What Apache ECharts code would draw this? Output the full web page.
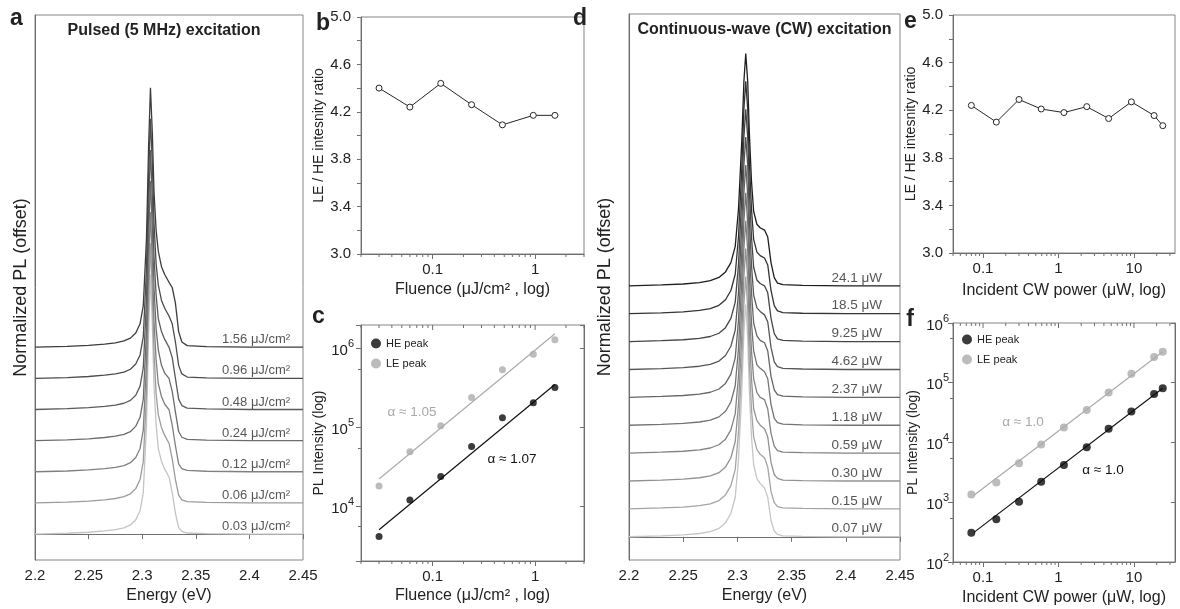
<!DOCTYPE html>
<html><head><meta charset="utf-8">
<script src="https://cdn.jsdelivr.net/npm/echarts@6/dist/echarts.min.js"></script>
<style>html,body{margin:0;padding:0;background:#fff}#chart{width:1180px;height:609px}</style>
</head><body><div id="chart"></div>
<script>
// ---------- DATA ----------
const energy = [2.200, 2.230, 2.250, 2.265, 2.275, 2.283, 2.289, 2.294, 2.298, 2.301, 2.304, 2.306, 2.3077,
                2.3095, 2.311, 2.313, 2.315, 2.318, 2.321, 2.325, 2.328, 2.331, 2.334, 2.337, 2.342, 2.360, 2.400, 2.450];
const energyTicks = [2.2, 2.25, 2.3, 2.35, 2.4, 2.45];

// panel a: pulsed excitation (bottom -> top)
const pulsedLabels = ['0.03 μJ/cm²', '0.06 μJ/cm²', '0.12 μJ/cm²', '0.24 μJ/cm²', '0.48 μJ/cm²', '0.96 μJ/cm²', '1.56 μJ/cm²'];
const pulsedOffset = [0, 0.12, 0.24, 0.36, 0.48, 0.60, 0.72];
const pulsedRise = [0, 0.003, 0.007, 0.012, 0.017, 0.024, 0.035, 0.055, 0.09, 0.16, 0.42, 0.78, 1.0];
const pulsedFall = [
  [0.80, 0.57, 0.42, 0.33, 0.28, 0.25, 0.22, 0.16, 0.08, 0.025, 0.010, 0.004, 0.002, 0, 0],
  [0.80, 0.58, 0.42, 0.34, 0.29, 0.26, 0.23, 0.17, 0.09, 0.030, 0.012, 0.005, 0.002, 0, 0],
  [0.80, 0.58, 0.43, 0.34, 0.29, 0.26, 0.24, 0.18, 0.10, 0.030, 0.012, 0.005, 0.002, 0, 0],
  [0.81, 0.59, 0.43, 0.35, 0.29, 0.26, 0.24, 0.19, 0.11, 0.035, 0.013, 0.005, 0.002, 0, 0],
  [0.81, 0.59, 0.44, 0.35, 0.30, 0.27, 0.24, 0.20, 0.12, 0.040, 0.015, 0.005, 0.002, 0, 0],
  [0.82, 0.60, 0.44, 0.36, 0.30, 0.27, 0.24, 0.21, 0.14, 0.050, 0.017, 0.005, 0.002, 0, 0],
  [0.82, 0.60, 0.45, 0.37, 0.31, 0.28, 0.25, 0.23, 0.17, 0.060, 0.020, 0.006, 0.002, 0, 0]
];
const pulsedColors = ['#c4c4c4', '#9c9c9c', '#808080', '#6c6c6c', '#5a5a5a', '#4c4c4c', '#3c3c3c'];

// panel d: CW excitation (bottom -> top)
const cwLabels = ['0.07 μW', '0.15 μW', '0.30 μW', '0.59 μW', '1.18 μW', '2.37 μW', '4.62 μW', '9.25 μW', '18.5 μW', '24.1 μW'];
const cwOffset = [0, 0.12, 0.24, 0.36, 0.48, 0.60, 0.72, 0.84, 0.96, 1.08];
const cwRise = [0, 0.004, 0.008, 0.014, 0.022, 0.036, 0.06, 0.10, 0.17, 0.33, 0.62, 0.88, 1.0];
const cwFall = [
  [0.86, 0.63, 0.43, 0.31, 0.25, 0.23, 0.21, 0.17, 0.07, 0.025, 0.010, 0.004, 0.002, 0, 0],
  [0.86, 0.63, 0.43, 0.31, 0.255, 0.235, 0.22, 0.18, 0.075, 0.027, 0.010, 0.004, 0.002, 0, 0],
  [0.87, 0.64, 0.44, 0.31, 0.26, 0.24, 0.225, 0.19, 0.08, 0.028, 0.011, 0.004, 0.002, 0, 0],
  [0.87, 0.64, 0.44, 0.32, 0.26, 0.24, 0.23, 0.19, 0.085, 0.030, 0.011, 0.004, 0.002, 0, 0],
  [0.87, 0.65, 0.44, 0.32, 0.26, 0.245, 0.23, 0.20, 0.09, 0.030, 0.011, 0.005, 0.002, 0, 0],
  [0.87, 0.65, 0.45, 0.32, 0.265, 0.245, 0.235, 0.20, 0.09, 0.032, 0.012, 0.005, 0.002, 0, 0],
  [0.88, 0.65, 0.45, 0.32, 0.265, 0.25, 0.235, 0.205, 0.095, 0.033, 0.012, 0.005, 0.002, 0, 0],
  [0.88, 0.66, 0.45, 0.32, 0.265, 0.25, 0.24, 0.21, 0.10, 0.034, 0.012, 0.005, 0.002, 0, 0],
  [0.88, 0.66, 0.45, 0.32, 0.265, 0.25, 0.24, 0.21, 0.10, 0.035, 0.012, 0.005, 0.002, 0, 0],
  [0.88, 0.66, 0.45, 0.32, 0.265, 0.25, 0.24, 0.21, 0.10, 0.035, 0.012, 0.005, 0.002, 0, 0]
];
const cwColors = ['#c6c6c6', '#a4a4a4', '#929292', '#828282', '#737373', '#666666', '#575757', '#454545', '#333333', '#1e1e1e'];

// panel b / c: fluence series
const fluence = [0.03, 0.06, 0.12, 0.24, 0.48, 0.96, 1.56];
const pulsedRatio = [4.40, 4.24, 4.44, 4.26, 4.09, 4.17, 4.17];
const pulsedHE = [4.1e3, 1.19e4, 2.37e4, 5.7e4, 1.32e5, 2.05e5, 3.2e5];
const pulsedLE = [1.8e4, 4.9e4, 1.05e5, 2.4e5, 5.4e5, 8.5e5, 1.3e6];
const pulsedFitX = [0.03, 1.56];
const pulsedFitHE = [5.0e3, 3.5e5];
const pulsedFitLE = [2.2e4, 1.55e6];

// panel e / f: CW power series
const cwPower = [0.07, 0.15, 0.30, 0.59, 1.18, 2.37, 4.62, 9.25, 18.5, 24.1];
const cwRatio = [4.24, 4.10, 4.29, 4.21, 4.18, 4.23, 4.13, 4.27, 4.155, 4.07];
const cwHE = [310, 520, 1.02e3, 2.2e3, 4.2e3, 8.3e3, 1.7e4, 3.3e4, 6.5e4, 8.1e4];
const cwLE = [1.35e3, 2.15e3, 4.5e3, 9.3e3, 1.78e4, 3.5e4, 6.9e4, 1.41e5, 2.7e5, 3.3e5];
const cwFitX = [0.075, 24.1];
const cwFitHE = [310, 8.1e4];
const cwFitLE = [1.3e3, 3.3e5];

// minor log tick positions
const fluenceMinorTicks = [0.02, 0.03, 0.04, 0.05, 0.06, 0.07, 0.08, 0.09, 0.2, 0.3, 0.4, 0.5, 0.6, 0.7, 0.8, 0.9, 2, 3];
const powerMinorTicks = [0.04, 0.05, 0.06, 0.07, 0.08, 0.09, 0.2, 0.3, 0.4, 0.5, 0.6, 0.7, 0.8, 0.9, 2, 3, 4, 5, 6, 7, 8, 9, 20, 30];
const fluenceMajorTicks = [0.1, 1];
const powerMajorTicks = [0.1, 1, 10];

// ---------- CHART ----------
const FONT = 'Liberation Sans, Arial, sans-serif';
const TXT = '#222';
const AX = '#6e6e6e';
const chart = echarts.init(document.getElementById('chart'), null, {renderer: 'canvas'});

const grids = [
  {left: 35, top: 15, width: 268, height: 547},   // a
  {left: 361, top: 17, width: 223, height: 237},  // b
  {left: 361, top: 325, width: 223, height: 236}, // c
  {left: 629, top: 14, width: 271, height: 546},  // d
  {left: 953, top: 15, width: 222, height: 238},  // e
  {left: 953, top: 323, width: 222, height: 239}  // f
].map(g => Object.assign({show: true, borderColor: '#858585', borderWidth: 1, backgroundColor: 'transparent'}, g));

const axLine = {show: true, lineStyle: {color: AX, width: 1}};
const lbl = (m) => ({color: TXT, fontSize: 15, fontFamily: FONT, margin: m});
const xNameStyle = {color: TXT, fontSize: 16, fontFamily: FONT};
const yNameStyle = {color: TXT, fontSize: 14, fontFamily: FONT};
const logFmt = v => v >= 1 ? String(Math.round(v)) : String(+v.toPrecision(1));
const powFmt = v => '{b|10}{s|' + Math.round(Math.log10(v)) + '}';
const powRich = {b: {fontSize: 15, fontFamily: FONT, color: TXT, lineHeight: 20, verticalAlign: 'bottom'},
                 s: {fontSize: 11, fontFamily: FONT, color: TXT, lineHeight: 11, verticalAlign: 'top'}};

function energyAxis(grid) {
  return {type: 'value', gridIndex: grid, min: 2.2, max: 2.45, interval: 0.05,
    axisLine: axLine, axisTick: {show: true, length: 5, lineStyle: {color: AX}},
    axisLabel: Object.assign(lbl(8), {formatter: v => String(+v.toFixed(2))}),
    splitLine: {show: false}, name: 'Energy (eV)', nameLocation: 'middle', nameGap: 28, nameTextStyle: xNameStyle};
}
function logX(grid, min, max, name, nameGap) {
  return {type: 'log', logBase: 10, gridIndex: grid, min: min, max: max,
    axisLine: axLine, axisTick: {show: true, length: 5, lineStyle: {color: AX}},
    axisLabel: Object.assign(lbl(8), {formatter: logFmt, showMinLabel: false, showMaxLabel: false}),
    splitLine: {show: false}, minorTick: {show: false}, name: name, nameLocation: 'middle', nameGap: nameGap, nameTextStyle: xNameStyle};
}
function ratioY(grid, gap) {
  return {type: 'value', gridIndex: grid, min: 3.0, max: 5.0, interval: 0.4,
    axisLine: axLine, axisTick: {show: true, length: 4, lineStyle: {color: AX}},
    minorTick: {show: true, splitNumber: 2, length: 4, lineStyle: {color: AX}},
    axisLabel: Object.assign(lbl(10), {formatter: v => v.toFixed(1)}),
    splitLine: {show: false}, minorSplitLine: {show: false},
    name: 'LE / HE intesnity ratio', nameLocation: 'middle', nameGap: gap, nameTextStyle: yNameStyle};
}
function logY(grid, min, max, showEdges, margin, gap) {
  return {type: 'log', logBase: 10, gridIndex: grid, min: min, max: max,
    axisLine: axLine, axisTick: {show: true, length: 5, lineStyle: {color: AX}},
    minorTick: {show: true, splitNumber: 2, length: 3, lineStyle: {color: AX}},
    axisLabel: {formatter: powFmt, rich: powRich, margin: margin, showMinLabel: showEdges, showMaxLabel: showEdges},
    splitLine: {show: false}, minorSplitLine: {show: false},
    name: 'PL Intensity (log)', nameLocation: 'middle', nameGap: gap, nameTextStyle: yNameStyle};
}
function rightY(grid, min, max) {
  return {type: 'log', logBase: 10, gridIndex: grid, min: min, max: max, position: 'right',
    axisLine: axLine, axisTick: {show: true, inside: true, length: 4, lineStyle: {color: AX}},
    axisLabel: {show: false}, splitLine: {show: false}};
}
function hiddenY(grid, min, max, name, gap) {
  return {type: 'value', gridIndex: grid, min: min, max: max,
    axisLine: axLine, axisTick: {show: false}, axisLabel: {show: false}, splitLine: {show: false},
    name: name, nameLocation: 'middle', nameGap: gap, nameTextStyle: {color: TXT, fontSize: 18, fontFamily: FONT}};
}

const xAxis = [
  energyAxis(0),
  logX(1, 0.02, 3, 'Fluence (μJ/cm² , log)', 28),
  logX(2, 0.02, 3, 'Fluence (μJ/cm² , log)', 27),
  energyAxis(3),
  logX(4, 0.04, 35, 'Incident CW power (μW, log)', 30),
  logX(5, 0.04, 35, 'Incident CW power (μW, log)', 28)
];
const yAxis = [
  hiddenY(0, -0.1, 2.0, 'Normalized PL (offset)', 5),
  ratioY(1, 35),
  logY(2, 2e3, 2e6, false, 7, 35),
  hiddenY(3, -0.1, 2.25, 'Normalized PL (offset)', 15),
  ratioY(4, 33),
  logY(5, 1e2, 1e6, true, 4, 33),
  rightY(2, 2e3, 2e6),
  rightY(5, 1e2, 1e6)
];

const series = [];
function spectra(grid, rise, fall, offsets, colors) {
  offsets.forEach((o, i) => {
    const vals = rise.concat(fall[i]);
    series.push({type: 'line', xAxisIndex: grid, yAxisIndex: grid, silent: true, showSymbol: false,
      data: energy.map((e, k) => [e, vals[k] + o]),
      lineStyle: {color: colors[i], width: 1.3}, z: 2 + i});
  });
}
spectra(0, pulsedRise, pulsedFall, pulsedOffset, pulsedColors);
spectra(3, cwRise, cwFall, cwOffset, cwColors);

function curveLabels(grid, x, offsets, labels, size) {
  series.push({type: 'scatter', xAxisIndex: grid, yAxisIndex: grid, silent: true, symbolSize: 0,
    data: offsets.map((o, i) => ({value: [x, o], label: {formatter: labels[i]}})),
    label: {show: true, position: 'top', distance: 1, align: 'right', color: '#2a2a2a', fontSize: size, fontFamily: FONT}, z: 30});
}
curveLabels(0, 2.438, pulsedOffset, pulsedLabels, 13);
curveLabels(3, 2.4334, cwOffset, cwLabels, 13.5);

function ratioSeries(grid, xs, ys) {
  series.push({type: 'line', xAxisIndex: grid, yAxisIndex: grid, data: xs.map((x, i) => [x, ys[i]]),
    symbol: 'circle', symbolSize: 6, showSymbol: true, lineStyle: {color: '#262626', width: 1},
    itemStyle: {color: '#fff', borderColor: '#262626', borderWidth: 1}, z: 5});
}
ratioSeries(1, fluence, pulsedRatio);
ratioSeries(4, cwPower, cwRatio);

function powerSeries(grid, yIdx, xs, he, le, fx, fhe, fle, size) {
  series.push({type: 'line', xAxisIndex: grid, yAxisIndex: yIdx, data: fx.map((x, i) => [x, fle[i]]), showSymbol: false,
    lineStyle: {color: '#ababab', width: 1.2}, silent: true, z: 3});
  series.push({type: 'line', xAxisIndex: grid, yAxisIndex: yIdx, data: fx.map((x, i) => [x, fhe[i]]), showSymbol: false,
    lineStyle: {color: '#111', width: 1.2}, silent: true, z: 3});
  series.push({name: 'LE peak', type: 'scatter', xAxisIndex: grid, yAxisIndex: yIdx, symbolSize: size,
    data: xs.map((x, i) => [x, le[i]]), itemStyle: {color: '#ababab'}, z: 4});
  series.push({name: 'HE peak', type: 'scatter', xAxisIndex: grid, yAxisIndex: yIdx, symbolSize: size,
    data: xs.map((x, i) => [x, he[i]]), itemStyle: {color: '#0a0a0a'}, z: 4});
}
powerSeries(2, 2, fluence, pulsedHE, pulsedLE, pulsedFitX, pulsedFitHE, pulsedFitLE, 7);
powerSeries(5, 5, cwPower, cwHE, cwLE, cwFitX, cwFitHE, cwFitLE, 8);

// log minor ticks, drawn through the axis scales
function tickRender(params, api) {
  const p = api.coord([api.value(0), api.value(1)]);
  const len = api.value(2);
  return {type: 'line', silent: true, shape: {x1: p[0], y1: p[1], x2: p[0], y2: p[1] + len},
    style: {stroke: AX, lineWidth: 1}};
}
function tickSeries(grid, yIdx, values, yVal, len) {
  series.push({type: 'custom', xAxisIndex: grid, yAxisIndex: yIdx, silent: true, clip: false,
    renderItem: tickRender, data: values.map(v => [v, yVal, len]), z: 10});
}
tickSeries(1, 1, fluenceMinorTicks, 3.0, 3);
tickSeries(2, 2, fluenceMinorTicks, 2e3, 3);
tickSeries(2, 2, fluenceMinorTicks, 2e6, 3);
tickSeries(2, 2, fluenceMajorTicks, 2e6, 5);
tickSeries(4, 4, powerMinorTicks, 3.0, 3);
tickSeries(5, 5, powerMinorTicks, 1e2, 3);
tickSeries(5, 5, powerMinorTicks, 1e6, 3);
tickSeries(5, 5, powerMajorTicks, 1e6, 5);

function txt(x, y, text, size, weight, color, align) {
  return {type: 'text', x: x, y: y, silent: true,
    style: {text: text, fill: color || TXT, font: (weight || 'normal') + ' ' + size + 'px ' + FONT,
      textAlign: align || 'center', textVerticalAlign: 'middle'}};
}
const graphic = [
  txt(16.5, 19, 'a', 23, 'bold'),
  txt(323, 24, 'b', 23, 'bold'),
  txt(318.5, 317, 'c', 23, 'bold'),
  txt(580, 19, 'd', 23, 'bold'),
  txt(910.5, 22, 'e', 23, 'bold'),
  txt(910, 320, 'f', 23, 'bold'),
  txt(164, 30.5, 'Pulsed (5 MHz) excitation', 16, 'bold'),
  txt(764.5, 30, 'Continuous-wave (CW) excitation', 16, 'bold'),
  txt(412, 412, 'α ≈ 1.05', 13.5, 'normal', '#a8a8a8'),
  txt(512, 459, 'α ≈ 1.07', 13.5, 'normal', '#111'),
  txt(1023, 422, 'α ≈ 1.0', 13.5, 'normal', '#a8a8a8'),
  txt(1103, 470, 'α ≈ 1.0', 13.5, 'normal', '#111')
];

const legendBase = {orient: 'vertical', icon: 'circle', itemWidth: 10, itemHeight: 10, itemGap: 9,
  data: ['HE peak', 'LE peak'], selectedMode: false, textStyle: {fontSize: 11, color: TXT, fontFamily: FONT}};

chart.setOption({
  animation: false,
  backgroundColor: '#fff',
  textStyle: {fontFamily: FONT},
  grid: grids,
  xAxis: xAxis,
  yAxis: yAxis,
  legend: [Object.assign({left: 366, top: 333}, legendBase), Object.assign({left: 957, top: 329}, legendBase)],
  graphic: graphic,
  series: series
});
</script></body></html>
